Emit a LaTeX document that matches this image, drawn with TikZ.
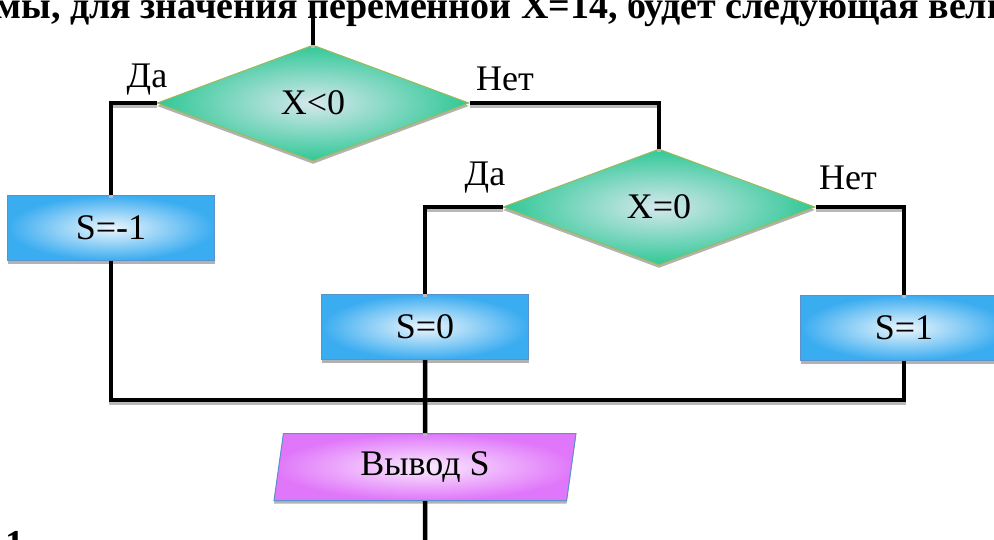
\documentclass[tikz,border=0pt]{standalone}
\usepackage{fontspec}
\setmainfont{Liberation Serif}
\usetikzlibrary{shapes.geometric,shadows}
\definecolor{condout}{RGB}{48,200,150}
\definecolor{condin}{RGB}{214,232,238}
\definecolor{condline}{RGB}{155,187,89}
\definecolor{boxout}{RGB}{58,172,240}
\definecolor{boxin}{RGB}{236,246,253}
\definecolor{boxline}{RGB}{91,145,205}
\definecolor{ioout}{RGB}{224,118,250}
\definecolor{ioin}{RGB}{251,236,254}
\begin{document}
\begin{tikzpicture}[x=1pt,y=-1pt,
	every node/.style={font=\fontsize{36}{42}\selectfont},
	shade/.style={drop shadow={shadow xshift=0pt,shadow yshift=-3pt,fill=gray!60,opacity=1}},
	cond/.style={diamond,minimum width=312pt,minimum height=116pt,inner sep=0pt,draw=condline,line width=1pt,inner color=condin,outer color=condout,shade},
	act/.style={rectangle,minimum width=207pt,minimum height=65pt,inner sep=0pt,draw=boxline,line width=1pt,inner color=boxin,outer color=boxout,shade},
	io/.style={trapezium,trapezium left angle=73,trapezium right angle=107,trapezium stretches body,minimum width=302pt,minimum height=67pt,inner sep=0pt,draw=boxline,line width=1pt,inner color=ioin,outer color=ioout,shade},
	link/.style={line width=4.5pt,preaction={draw=gray!55,line width=4pt,transform canvas={yshift=-3pt}}}]
	\useasboundingbox (0,0) rectangle (994,539);
	\clip (0,0) rectangle (994,539);
	
	\node[anchor=base west,font=\bfseries\fontsize{38}{44}\selectfont] (title) at (-8,18) {мы, для значения переменной X=14, будет следующая вели};
	\node[anchor=base west,font=\bfseries\fontsize{38}{44}\selectfont] (num) at (2,556) {1};
	
	\coordinate (start) at (313,18); \coordinate (end) at (425,545);
	\node[cond] (c1) at (313,103) {X<0};
	\node[cond] (c2) at (659,207) {X=0};
	\node[act] (sm1) at (111,228) {S=-1};
	\node[act] (s0) at (425,327) {S=0};
	\node[act] (s1) at (904,328) {S=1};
	\node[io] (out) at (425,467) {Вывод S};
	\coordinate (join) at (425,400);
	
	\node at (147,80) {Да}; \node at (505,79) {Нет};
	\node at (485,178) {Да}; \node at (848,178) {Нет};
	
	\draw[link] (start) -- (c1.north);
	\draw[link] (c1.west) -| (sm1.north);
	\draw[link] (c1.east) -| (c2.north);
	\draw[link] (c2.west) -| (s0.north);
	\draw[link] (c2.east) -| (s1.north);
	\draw[link] (sm1.south) -- (sm1.south |- join) -- (s1.south |- join) -- (s1.south);
	\draw[link] (s0.south) -- (out.north);
	\draw[link] (out.south) -- (end);
\end{tikzpicture}
\end{document}
